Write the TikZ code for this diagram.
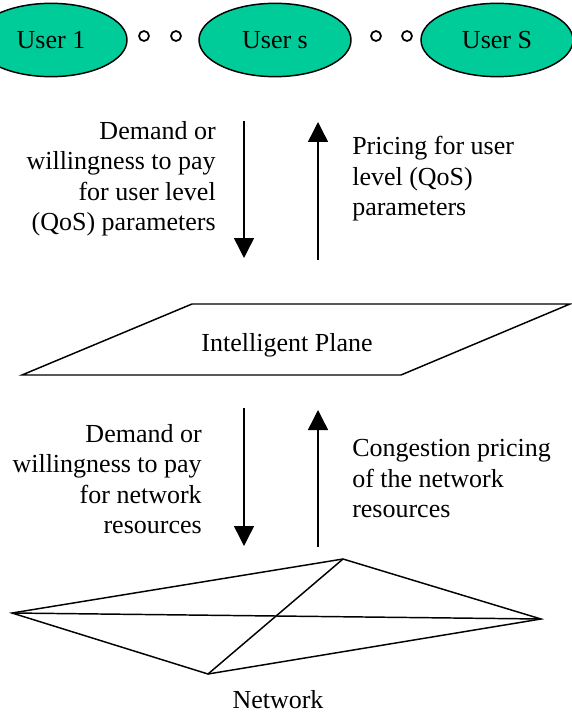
\documentclass[tikz,border=0pt]{standalone}
\usepackage{fontspec}
\setmainfont{Liberation Serif}
\usetikzlibrary{shapes.geometric, arrows.meta}
\definecolor{userfill}{HTML}{00CC99}
\begin{document}
\begin{tikzpicture}[x=0.75pt, y=-0.75pt,
  every node/.style={font=\fontsize{19.5}{22.9}\selectfont, inner sep=0pt},
  user/.style={ellipse, draw, line width=1.1pt, fill=userfill, minimum width=114pt, minimum height=55pt},
  dot/.style={circle, draw, line width=1.3pt, minimum size=7.5pt, fill=white},
  flow/.style={line width=1.1pt, -{Triangle[width=15pt,length=15pt]}},
  outline/.style={line width=1.1pt, line join=miter}
]
\useasboundingbox (0,0) rectangle (571,713);

% users
\node[user] (u1) at (51,40) {User 1};
\node[user] (us) at (275,40) {User s};
\node[user] (uS) at (497,40) {User S};
\node[dot] (d1) at (144,36) {};
\node[dot] (d2) at (176,36) {};
\node[dot] (d3) at (376,36) {};
\node[dot] (d4) at (407,36) {};

% upper arrows
\coordinate (a1s) at (244,121);
\coordinate (a1e) at (244,258);
\coordinate (a2s) at (318,260);
\coordinate (a2e) at (318,122);
\draw[flow] (a1s) -- (a1e);
\draw[flow] (a2s) -- (a2e);
\node[anchor=north east, align=right] (t1) at (216,121)
  {Demand or\\willingness to pay\\for user level\\(QoS) parameters};
\node[anchor=north west, align=left] (t2) at (352,136)
  {Pricing for user\\level (QoS)\\parameters};

% intelligent plane
\coordinate (p1) at (192,304);
\coordinate (p2) at (570,304);
\coordinate (p3) at (401,375);
\coordinate (p4) at (22,375);
\draw[outline] (p1) -- (p2) -- (p3) -- (p4) -- cycle;
\node[anchor=base] (ip) at (287,351) {Intelligent Plane};

% lower arrows
\coordinate (b1s) at (244,408);
\coordinate (b1e) at (244,546);
\coordinate (b2s) at (318,547);
\coordinate (b2e) at (318,410);
\draw[flow] (b1s) -- (b1e);
\draw[flow] (b2s) -- (b2e);
\node[anchor=north east, align=right] (t3) at (202,424)
  {Demand or\\willingness to pay\\for network\\resources};
\node[anchor=north west, align=left] (t4) at (352,439)
  {Congestion pricing\\of the network\\resources};

% network
\coordinate (nl) at (12,613);
\coordinate (nt) at (343,559);
\coordinate (nr) at (541,619);
\coordinate (nb) at (208,674);
\draw[outline] (nl) -- (nt) -- (nr) -- (nb) -- cycle;
\draw[outline] (nl) -- (nr);
\draw[outline] (nt) -- (nb);
\node[anchor=base] (net) at (278,708) {Network};
\end{tikzpicture}
\end{document}
